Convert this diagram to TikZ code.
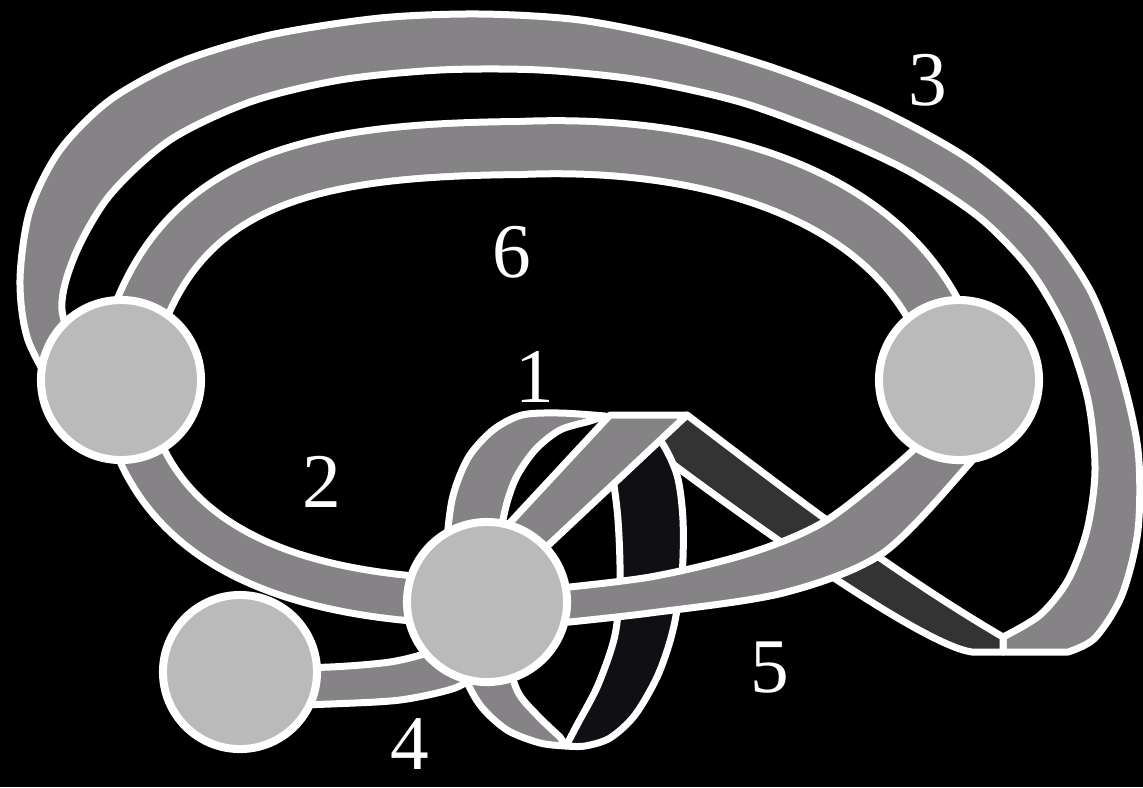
\documentclass[tikz,border=0pt]{standalone}
\usepackage{fontspec}
\setmainfont{Liberation Serif}
\usepackage{tikz}
\usetikzlibrary{positioning}
\definecolor{bandC}{HTML}{858385}
\definecolor{vertC}{HTML}{BABABA}
\definecolor{backC}{HTML}{333333}
\definecolor{deepC}{HTML}{101014}
\pgfdeclarelayer{ribbons}
\pgfsetlayers{ribbons,main}

\begin{document}
\begin{tikzpicture}[x=0.01cm,y=-0.01cm,
    vertex/.style={circle,draw=white,line width=0.8mm,fill=vertC,inner sep=0pt,minimum size=#1},
    vertex/.default=1.6cm,
    band/.style={draw=white,line width=0.7mm,double=bandC,double distance=#1},
    patch/.style={draw=white,line width=0.7mm,line join=round,fill=#1},
    num/.style={text=white,font=\fontsize{22}{22}\selectfont,inner sep=0pt}]
  \useasboundingbox (0,0) rectangle (1143,787);

  % Vertices
  \node[vertex] (vA) at (121,380) {};
  \node[vertex] (vB) at (959,380) {};
  \node[vertex] (vC) at (487,602) {};
  \node[vertex=1.54cm] (vD) at (240,672) {};

  % Ribbon numbers
  \node[num] (lab1) at (535,377) {1};
  \node[num] (lab2) at (322,482) {2};
  \node[num] (lab3) at (928,80) {3};
  \node[num] (lab4) at (410,744) {4};
  \node[num] (lab5) at (770,668) {5};
  \node[num] (lab6) at (512,252) {6};

  \begin{pgfonlayer}{ribbons}
  \fill[black] (0,0) rectangle (1143,787);

  % Ribbon 3, folded at the bottom right
  \draw[patch=bandC] plot[smooth] coordinates {(60,400) (28,340) (20,280) (30,210)
      (60,150) (110,100) (180,62) (270,35) (380,18) (480,14) (580,20) (680,40)
      (780,70) (880,110) (970,160) (1040,220) (1090,290) (1120,370) (1138,450)
      (1138,530) (1122,595) (1095,638) (1068,652)}
    -- (1003,652) -- (1003,637)
    -- plot[smooth] coordinates {(1003,637) (1040,615) (1068,580) (1087,530)
      (1095,470) (1088,400) (1065,330) (1030,270) (980,218) (910,172) (830,135)
      (740,102) (640,80) (540,70) (440,70) (340,80) (250,102) (170,140) (110,195)
      (75,255) (62,310) (85,375)} -- cycle;
  % back side of the twisted ribbon
  \draw[patch=backC] (687,415) .. controls (760,470) and (880,565) .. (1003,637)
    -- (1003,652) -- (972,652) .. controls (925,646) and (760,530) .. (650,447) -- cycle;

  % Ribbon 1 (loop at C)
  \draw[patch=deepC] plot[smooth] coordinates {(605,418) (612,470) (618,520) (620,580)
      (615,635) (598,685) (577,725) (566,746)}
    -- plot[smooth] coordinates {(566,746) (585,746) (610,738) (635,715) (658,675)
      (673,630) (682,575) (683,520) (677,475) (660,440) (635,420)} -- cycle;
  \draw[patch=bandC] plot[smooth] coordinates {(566,746) (540,743) (507,730) (480,705)
      (462,670) (450,620) (446,560) (452,500) (468,458) (493,430) (522,415) (560,413)
      (605,416)}
    -- plot[smooth] coordinates {(605,416) (590,421) (560,430) (535,450) (515,480)
      (503,520) (498,580) (503,640) (517,690) (537,715) (560,737)} -- cycle;
  \draw[patch=bandC] (479,556) -- (610,415) -- (687,415) -- (524,568) -- cycle;

  % Ribbon 5
  \draw[patch=bandC] plot[smooth] coordinates {(540,590) (650,577) (750,553) (827,520)
      (910,453) (925,430)}
    -- plot[smooth] coordinates {(985,440) (970,463) (883,553) (783,593) (650,613)
      (540,625)} -- cycle;

  % Ribbon 4
  \draw[patch=bandC] plot[smooth] coordinates {(260,668) (330,667) (390,662) (430,652) (470,635)}
    -- plot[smooth] coordinates {(480,672) (455,688) (400,700) (330,704) (260,706)} -- cycle;

  % Ribbons 2 and 6
  \draw[band=3.8mm] (vA.center) .. controls (140,540) and (280,600) .. (vC.center);
  \draw[band=4.6mm] (vA.center) .. controls (160,180) and (300,150) .. (520,148)
    .. controls (700,140) and (920,190) .. (vB.center);
  \end{pgfonlayer}
\end{tikzpicture}
\end{document}
